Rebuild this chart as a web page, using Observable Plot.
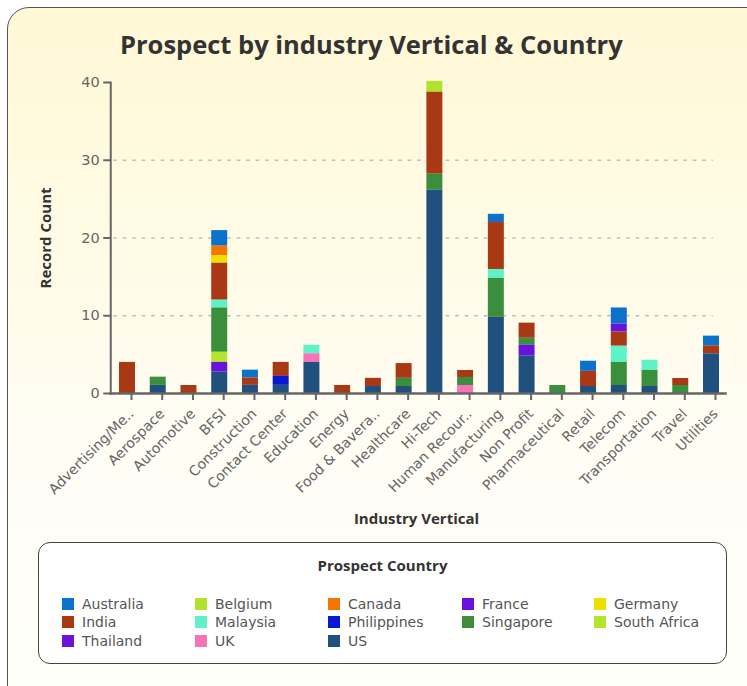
<!DOCTYPE html>
<html>
<head>
<meta charset="utf-8">
<script src="https://cdn.jsdelivr.net/npm/d3@7"></script>
<script src="https://cdn.jsdelivr.net/npm/@observablehq/plot@0.6"></script>
<style>
  html, body { margin: 0; padding: 0; background: #fff; width: 747px; height: 686px; overflow: hidden; font-family: "DejaVu Sans", sans-serif; }
  #card { position: absolute; left: 7px; top: 7px; width: 770px; height: 710px; box-sizing: border-box;
          border: 1.5px solid #555; border-radius: 22px;
          background: linear-gradient(to bottom, #fff8d6 0%, #fffbe6 35%, #fffdf4 60%, #fffffb 100%); }
  #title { position: absolute; left: 120px; top: 27px; font-family: "Open Sans", sans-serif; font-size: 25.5px; font-weight: 700; color: #333; white-space: nowrap; }
  #chart { position: absolute; left: 0; top: 70px; }
  #legend { position: absolute; left: 38px; top: 542px; width: 689px; height: 122px; box-sizing: border-box;
            border: 1.5px solid #444; border-radius: 12px; background: #fff; }
  #legend .ltitle { position: absolute; left: 0; right: 0; top: 12px; text-align: center; font-family: "Open Sans", sans-serif; font-weight: 700; font-size: 15px; color: #333; }
  #legend .item { position: absolute; height: 19px; display: flex; align-items: center; font-size: 14px; color: #555; white-space: nowrap; }
  #legend .sw { width: 12px; height: 12px; margin-right: 8px; }
</style>
</head>
<body>
<div id="card"></div>
<div id="title">Prospect by industry Vertical &amp; Country</div>
<div id="chart"></div>
<div id="legend"><div class="ltitle">Prospect Country</div></div>
<script>
const industries = ["Advertising/Me..","Aerospace","Automotive","BFSI","Construction","Contact Center","Education","Energy","Food & Bavera..","Healthcare","Hi-Tech","Human Recour..","Manufacturing","Non Profit","Pharmaceutical","Retail","Telecom","Transportation","Travel","Utilities"];

const countries = ["Australia","Belgium","Canada","France","Germany","India","Malaysia","Philippines","Singapore","South Africa","Thailand","UK","US"];
const countryColors = ["#0b72cc","#b3e22b","#f77300","#6a12dc","#eedf00","#a93815","#5ef3c6","#0819d6","#3b8e3c","#b4e42b","#6a12dc","#f772b6","#20507d"];

// record counts per country, in the order of `industries`
const australia   = [0,0,0,2,1,0,0,0,0,0,0,0,1.05,0,0,1.3,2.07,0,0,1.25];
const belgium     = [0,0,0,0,0,0,0,0,0,0,1.4,0,0,0,0,0,0,0,0,0];
const canada      = [0,0,0,1.2,0,0,0,0,0,0,0,0,0,0,0,0,0,0,0,0];
const france      = [0,0,0,0,0,0,0,0,0,0,0,0,0,0,0,0,1.03,0,0,0];
const germany     = [0,0,0,1,0,0,0,0,0,0,0,0,0,0,0,0,0,0,0,0];
const india       = [4,0,1.03,4.75,0.95,1.8,0,1.03,1.05,1.9,10.55,0.9,6.05,1.95,0,1.95,1.82,0,0.9,1.03];
const malaysia    = [0,0,0,1,0,0,1.1,0,0,0,0,0,1.15,0,0,0,2.08,1.3,0,0];
const philippines = [0,0,0,0,0,1.15,0,0,0,0,0,0,0,0,0,0,0,0,0,0];
const singapore   = [0,1.05,0,5.7,0,0,0,0,0,1.05,2.05,1.03,5.0,0.9,1.03,0,2.97,2.07,1.03,0];
const southAfrica = [0,0,0,1.3,0,0,0,0,0,0,0,0,0,0,0,0,0,0,0,0];
const thailand    = [0,0,0,1.25,0,0,0,0,0,0,0,0,0,1.4,0,0,0,0,0,0];
const uk          = [0,0,0,0,0,0,1.1,0,0,0,0,1.03,0,0,0,0,0,0,0,0];
const us          = [0,1.05,0,2.75,1.05,1.05,4,0,0.9,0.9,26.15,0,9.8,4.8,0,0.9,1.03,0.9,0,5.1];

const yTicks = [0,10,20,30,40];
const gridTicks = [10,20,30];

const seriesByCountry = [australia,belgium,canada,france,germany,india,malaysia,philippines,singapore,southAfrica,thailand,uk,us];
const rows = [];
countries.forEach((c, ci) => {
  seriesByCountry[ci].forEach((v, i) => {
    if (v > 0) rows.push({industry: industries[i], country: c, count: v});
  });
});
const stackOrder = countries.slice().reverse(); // US at the bottom

const chart = Plot.plot({
  width: 747,
  height: 470,
  marginTop: 12,
  marginBottom: 147,
  marginLeft: 104.25,
  marginRight: 13.25,
  style: {background: "transparent", fontFamily: "'DejaVu Sans', sans-serif", fontSize: "14px", color: "#666", overflow: "visible"},
  x: {domain: industries, padding: 0.48, round: false, label: null},
  y: {domain: [0, 40], label: null},
  color: {domain: countries, range: countryColors},
  marks: [
    Plot.gridY(gridTicks, {stroke: "#bdbdbd", strokeOpacity: 1, strokeWidth: 1.6, strokeDasharray: "3.5,6", insetLeft: 9, insetRight: 21}),
    Plot.barY(rows, {x: "industry", y: "count", fill: "country", order: stackOrder}),
    Plot.axisY({ticks: yTicks, tickSize: 7, tickPadding: 4, dx: 6, strokeWidth: 2, color: "#666", fontSize: 14.5, label: null}),
    Plot.axisX({tickRotate: -45, tickSize: 7, tickPadding: 11, dx: 4, strokeWidth: 2, color: "#666", fontSize: 14, label: null}),
    Plot.frame({anchor: "left", insetLeft: 6, stroke: "#666", strokeWidth: 2}),
    Plot.ruleY([0], {stroke: "#666", strokeWidth: 2.5, insetLeft: 5, insetRight: 7}),
    Plot.text(["Record Count"], {frameAnchor: "left", dx: -59, rotate: -90, textAnchor: "middle", fontFamily: "'Open Sans', sans-serif", fontWeight: "bold", fontSize: 15, fill: "#333"}),
    Plot.text(["Industry Vertical"], {frameAnchor: "bottom", dy: 126, dx: -3, lineAnchor: "middle", fontFamily: "'Open Sans', sans-serif", fontWeight: "bold", fontSize: 15, fill: "#333"})
  ]
});
document.getElementById("chart").appendChild(chart);

// legend (5 columns, row-major)
const legend = document.getElementById("legend");
const colX = [23, 156, 289, 423, 555];
const rowY = [51, 69.5, 88];
countries.forEach((c, i) => {
  const item = document.createElement("div");
  item.className = "item";
  item.style.left = colX[i % 5] + "px";
  item.style.top = rowY[Math.floor(i / 5)] + "px";
  const sw = document.createElement("span");
  sw.className = "sw";
  sw.style.background = countryColors[i];
  item.appendChild(sw);
  item.appendChild(document.createTextNode(c));
  legend.appendChild(item);
});
</script>
</body>
</html>
